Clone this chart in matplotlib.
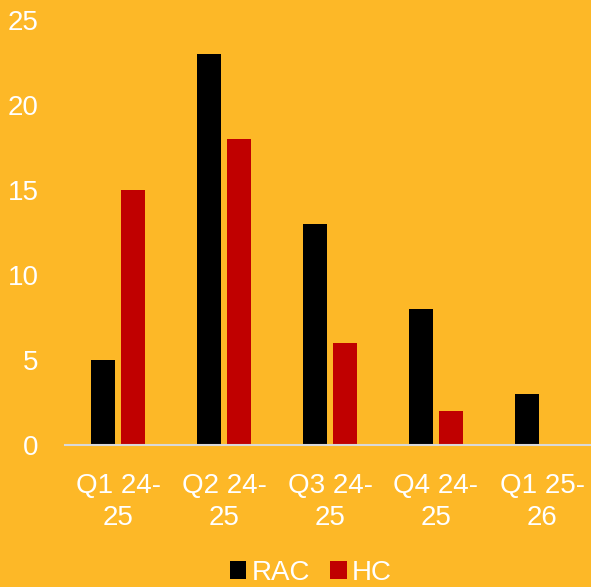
import matplotlib.pyplot as plt
import numpy as np

quarters = ['Q1 24-\n25', 'Q2 24-\n25', 'Q3 24-\n25', 'Q4 24-\n25', 'Q1 25-\n26']
rac = [5, 23, 13, 8, 3]
hc = [15, 18, 6, 2, 0]

bg = '#FDB827'
plt.rcParams['font.family'] = ['Liberation Sans', 'DejaVu Sans']

fig = plt.figure(figsize=(5.91, 5.87), dpi=100, facecolor=bg)
ax = fig.add_axes([65 / 591, 1 - 445 / 587, 530 / 591, 425 / 587])
ax.set_facecolor(bg)

x = np.arange(len(quarters))
w = 0.22
ax.bar(x - 0.142, rac, w, color='black', label='RAC')
ax.bar(x + 0.142, hc, w, color='#C00000', label='HC')

ax.set_xlim(-0.5, 4.5)
ax.set_ylim(0, 25)
ax.set_yticks(range(0, 26, 5))
ax.set_xticks(x)
ax.set_xticklabels(quarters, linespacing=1.3)
ax.tick_params(axis='both', length=0, labelsize=20, labelcolor='white')
ax.tick_params(axis='x', pad=20)
ax.tick_params(axis='y', pad=19)

for s in ['top', 'right', 'left']:
    ax.spines[s].set_visible(False)
ax.spines['bottom'].set_color('#D9D9D9')
ax.spines['bottom'].set_linewidth(1.5)

leg = fig.legend(loc='center', bbox_to_anchor=(311 / 591, 1 - 573 / 587), ncol=2,
                 frameon=False, fontsize=20, handlelength=0.6, handleheight=0.6,
                 handletextpad=0.2, columnspacing=0.7, labelcolor='white')

fig.savefig('out.png', dpi=100, facecolor=bg)
